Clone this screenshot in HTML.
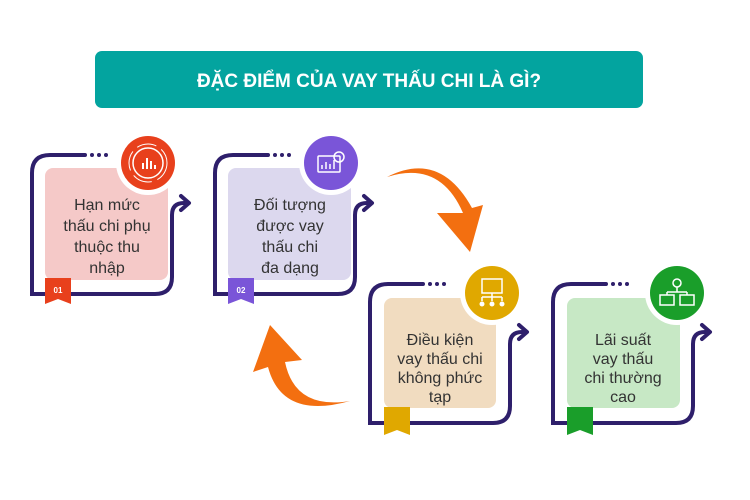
<!DOCTYPE html>
<html><head><meta charset="utf-8"><style>
body{margin:0;width:750px;height:500px;background:#fff;overflow:hidden;font-family:"Liberation Sans",sans-serif}
svg{position:absolute;left:0;top:0}
</style></head><body>
<svg width="750" height="500" viewBox="0 0 750 500" xmlns="http://www.w3.org/2000/svg">
<defs>
<g id="frame">
<path d="M85,155 H50 Q32,155 32,173 V294 H46 M70,294 H155 Q172,294 172,277 V215 Q172,203 184,203" fill="none" stroke="#2e1f6b" stroke-width="4" stroke-linecap="round"/>
<path d="M181,196 L189,203 L181,210" fill="none" stroke="#2e1f6b" stroke-width="4" stroke-linecap="round" stroke-linejoin="round"/>
<circle cx="92" cy="155" r="2" fill="#2e1f6b"/><circle cx="99" cy="155" r="2" fill="#2e1f6b"/><circle cx="106" cy="155" r="2" fill="#2e1f6b"/>
</g>
<g id="ico" fill="none" stroke="#fff" stroke-width="1.5">
<rect x="-11" y="-9" width="22" height="16" rx="1"/><path d="M-7,4 V0 M-3,4 V-3 M1,4 V-1 M5,4 V-5"/>
</g>
</defs>
<rect x="95" y="51" width="548" height="57" rx="7" fill="#03a49f"/>
<text x="369" y="87" text-anchor="middle" font-size="19" font-weight="bold" fill="#fff">ĐẶC ĐIỂM CỦA VAY THẤU CHI LÀ GÌ?</text>

<g><use href="#frame"/>
<rect x="45" y="168" width="123" height="112" rx="8" fill="#f5c9c8"/>
<circle cx="148" cy="163" r="32" fill="#fff"/><circle cx="148" cy="163" r="27" fill="#e8401c"/>
<circle cx="148" cy="163" r="15" fill="none" stroke="#fff" stroke-width="1.5"/><circle cx="148" cy="163" r="19" fill="none" stroke="#fff" stroke-width="1" stroke-dasharray="20 6"/>
<path d="M143,169 V163 M147,169 V158 M151,169 V161 M155,169 V165" stroke="#fff" stroke-width="2"/>
<path d="M45,278 H71 V304 L58,299 L45,304 Z" fill="#e8401c"/><text x="58" y="293" text-anchor="middle" font-size="8" font-weight="bold" fill="#fff">01</text>
<g font-size="16" fill="#333" text-anchor="middle"><text x="107" y="210">Hạn mức</text><text x="107" y="231">thấu chi phụ</text><text x="107" y="252">thuộc thu</text><text x="107" y="273">nhập</text></g>
</g>
<g transform="translate(183,0)"><use href="#frame"/>
<rect x="45" y="168" width="123" height="112" rx="8" fill="#dcd8ee"/>
<circle cx="148" cy="163" r="32" fill="#fff"/><circle cx="148" cy="163" r="27" fill="#7a55d8"/>
<use href="#ico" x="146" y="165"/><circle cx="156" cy="157" r="5" fill="none" stroke="#fff" stroke-width="1.5"/>
<path d="M45,278 H71 V304 L58,299 L45,304 Z" fill="#7a55d8"/><text x="58" y="293" text-anchor="middle" font-size="8" font-weight="bold" fill="#fff">02</text>
<g font-size="16" fill="#333" text-anchor="middle"><text x="107" y="210">Đối tượng</text><text x="107" y="231">được vay</text><text x="107" y="252">thấu chi</text><text x="107" y="273">đa dạng</text></g>
</g>
<g transform="translate(338,129)"><use href="#frame"/>
<rect x="46" y="169" width="112" height="110" rx="8" fill="#f1dcc0"/>
<circle cx="154" cy="164" r="32" fill="#fff"/><circle cx="154" cy="164" r="27" fill="#e0a800"/>
<rect x="144" y="150" width="20" height="14" fill="none" stroke="#fff" stroke-width="1.5"/>
<path d="M154,164 V168 M144,168 H164 M144,168 V172 M154,168 V172 M164,168 V172" stroke="#fff" stroke-width="1.5"/>
<circle cx="144" cy="175" r="2.5" fill="#fff"/><circle cx="154" cy="175" r="2.5" fill="#fff"/><circle cx="164" cy="175" r="2.5" fill="#fff"/>
<path d="M46,278 H72 V306 L59,301 L46,306 Z" fill="#e0a800"/>
<g font-size="16" fill="#333" text-anchor="middle"><text x="102" y="216">Điều kiện</text><text x="102" y="235">vay thấu chi</text><text x="102" y="254">không phức</text><text x="102" y="273">tạp</text></g>
</g>
<g transform="translate(521,129)"><use href="#frame"/>
<rect x="46" y="169" width="113" height="110" rx="8" fill="#c7e8c5"/>
<circle cx="156" cy="164" r="32" fill="#fff"/><circle cx="156" cy="164" r="27" fill="#1a9e2a"/>
<circle cx="156" cy="154" r="4" fill="none" stroke="#fff" stroke-width="1.5"/>
<path d="M156,158 V163 M146,163 H166 M146,163 V166 M166,163 V166" stroke="#fff" stroke-width="1.5"/>
<rect x="139" y="166" width="14" height="10" fill="none" stroke="#fff" stroke-width="1.5"/><rect x="159" y="166" width="14" height="10" fill="none" stroke="#fff" stroke-width="1.5"/>
<path d="M46,278 H72 V306 L59,301 L46,306 Z" fill="#1a9e2a"/>
<g font-size="16" fill="#333" text-anchor="middle"><text x="102" y="216">Lãi suất</text><text x="102" y="235">vay thấu</text><text x="102" y="254">chi thường</text><text x="102" y="273">cao</text></g>
</g>
<path d="M387,177 Q440,160 463,213 L437,213 L470,252 L483,205 L472,208 Q440,150 387,177 Z" fill="#f36f10"/>
<path d="M350,401 Q295,410 285,362 L302,360 L270,325 L253,372 L268,367 Q282,420 350,401 Z" fill="#f36f10"/>
</svg>
</body></html>
